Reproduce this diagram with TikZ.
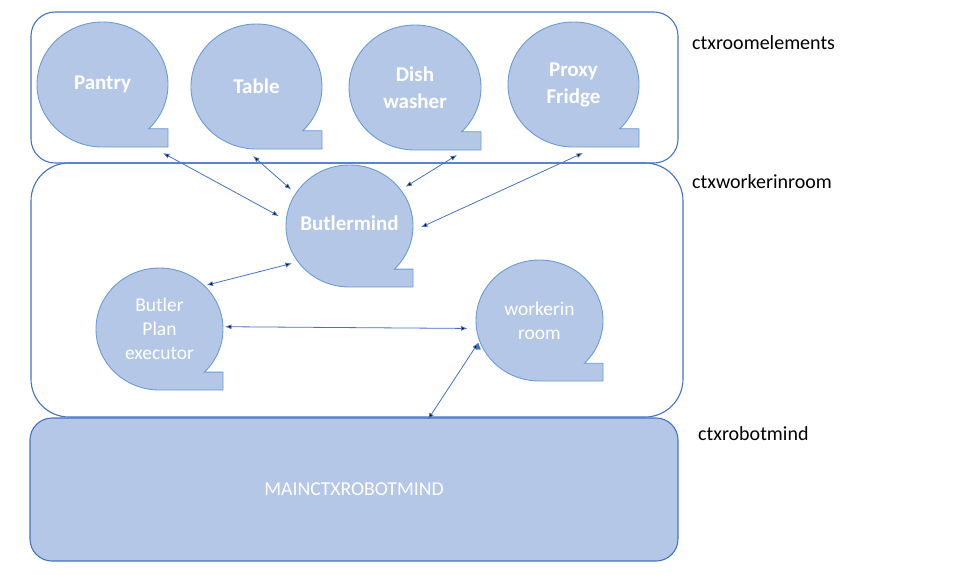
\documentclass[tikz,border=0pt]{standalone}
\usepackage{fontspec}
\setmainfont{Carlito}
\usepackage{tikz}
\usetikzlibrary{shapes.geometric,backgrounds,arrows.meta}

\definecolor{bubfill}{HTML}{B4C7E7}
\definecolor{bubline}{HTML}{6A9BD6}
\definecolor{ctxline}{HTML}{4472C4}

\tikzset{
  bubble/.style={ellipse, inner sep=0pt, outer sep=2pt, minimum width=127pt, minimum height=122pt,
    text=white, align=center, font=\fontsize{19.5}{24}\selectfont},
  bigbub/.style={bubble, minimum width=131pt, minimum height=125pt,
    font=\fontsize{21}{27}\selectfont\bfseries},
  tape/.style={fill=bubfill, draw=bubline, line width=0.9pt},
  ctxbox/.style={draw=ctxline, line width=1.1pt},
  ctxlabel/.style={anchor=west, inner sep=0pt, font=\fontsize{20}{24}\selectfont},
  link/.style={<->, draw=ctxline, line width=0.8pt}
}

\begin{document}
\begin{tikzpicture}[x=1pt, y=1pt, >={Latex[length=6.5pt,width=5pt]}]
\useasboundingbox (0,0) rectangle (957,-574);

% contexts
\node[ctxbox, rounded corners=24pt, minimum width=647pt, minimum height=151pt] (roomelements) at (354.5,-87.5) {};
\node[ctxbox, rounded corners=38pt, minimum width=652pt, minimum height=254pt] (workerinroom) at (357,-290) {};
\node[ctxbox, fill=bubfill, rounded corners=22pt, minimum width=648pt, minimum height=143pt,
  text=white, font=\fontsize{19.7}{24}\selectfont] (robotmind) at (354,-489.5) {MAINCTXROBOTMIND};

\node[ctxlabel] (lroom) at (692,-43) {ctxroomelements};
\node[ctxlabel] (lworker) at (692,-182) {ctxworkerinroom};
\node[ctxlabel] (lrobot) at (698,-434) {ctxrobotmind};

% bubbles
\node[bigbub] (pantry) at (102.5,-84.5) {Pantry};
\node[bigbub] (table) at (256.5,-86.5) {Table};
\node[bigbub, minimum width=132pt] (dish) at (415,-87.5) {Dish\\washer};
\node[bigbub] (fridge) at (573.5,-84.5) {Proxy\\Fridge};
\node[bubble, font=\fontsize{21}{27}\selectfont\bfseries] (butler) at (349.5,-226) {\raisebox{5pt}{Butlermind}};
\node[bubble] (plan) at (159.5,-329) {Butler\\Plan\\executor};
\node[bubble] (worker) at (539.5,-320.5) {workerin\\room};

\begin{scope}[on background layer]
\foreach \n/\rx/\ry in {pantry/65.5/62.5, table/65.5/62.5, dish/66/62.5, fridge/65.5/62.5,
    butler/63.5/61, plan/63.5/61, worker/63.5/60.5}
  \draw[tape] (\n.center) ++(0,-\ry) arc[start angle=270, end angle=-45, x radius=\rx, y radius=\ry]
    -- ++({0.2929*\rx},0) -- ++(0,{-0.2929*\ry}) -- cycle;
\end{scope}

% links
\path[link]
([xshift=60.5pt,yshift=-4pt]pantry.south) edge (butler.172)
([xshift=-3.5pt,yshift=-5pt]table.south) edge (butler.148)
([xshift=42pt,yshift=-3pt]dish.south) edge (butler.35)
([xshift=9.5pt,yshift=-4pt]fridge.south) edge (butler.-1)
(butler.213) edge (plan.43)
(plan.2) edge[shorten >=7pt] (worker.187)
(worker.200) edge ([xshift=74pt,yshift=-2pt]robotmind.north);
\end{tikzpicture}
\end{document}
